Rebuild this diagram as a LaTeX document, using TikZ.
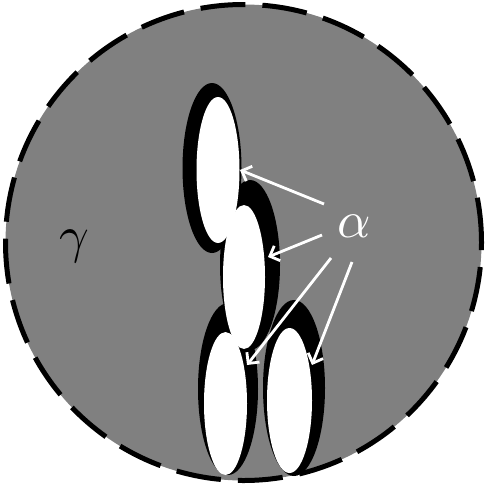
\documentclass[tikz,border=0pt]{standalone}
\usepackage{amsmath}
\usetikzlibrary{arrows.meta, positioning}
\definecolor{MatrixGrey}{HTML}{808080}
\tikzset{
  shell/.style={fill=black},
  core/.style={fill=white},
  pointer/.style={draw=white, line width=2.8pt,
    -{Straight Barb[length=8pt, width=16pt, line width=2.8pt]}},
  phaselabel/.style={scale=5.2}
}
\begin{document}
\begin{tikzpicture}[x=1pt, y=-1pt]
  \useasboundingbox (0,0) rectangle (487,485);
  % Matrix phase
  \draw[fill=MatrixGrey, line width=5pt, dash pattern=on 45pt off 17pt]
    (243.5,242.5) circle[radius=238pt];
  \node[phaselabel] (gamma) at (74,246) {$\gamma$};
  % Particles: black shells first, white cores on top
  \fill[shell] (212,168) ellipse[x radius=29.5pt, y radius=85pt];
  \fill[shell] (250,265) ellipse[x radius=30pt, y radius=85pt];
  \fill[shell] (228,389) ellipse[x radius=30pt, y radius=86pt];
  \fill[shell] (294,388) ellipse[x radius=31pt, y radius=88pt];
  \fill[core] (218,170) ellipse[x radius=21.5pt, y radius=73pt];
  \fill[core] (244,277) ellipse[x radius=21pt, y radius=72pt];
  \fill[core] (225.5,403.5) ellipse[x radius=21.5pt, y radius=71.5pt];
  \fill[core] (289.5,400.5) ellipse[x radius=22.5pt, y radius=72.5pt];
  % Label and pointers
  \node[phaselabel, text=white] (alpha) at (354,226) {$\alpha$};
  \coordinate (fromA) at (324,204);
  \coordinate (fromB) at (322,235);
  \coordinate (fromC) at (331,258);
  \coordinate (fromD) at (352,262);
  \coordinate (toA) at (240,170);
  \coordinate (toB) at (268,257);
  \coordinate (toC) at (247,365);
  \coordinate (toD) at (312,365);
  \draw[pointer] (fromA) -- (toA);
  \draw[pointer] (fromB) -- (toB);
  \draw[pointer] (fromC) -- (toC);
  \draw[pointer] (fromD) -- (toD);
\end{tikzpicture}
\end{document}
